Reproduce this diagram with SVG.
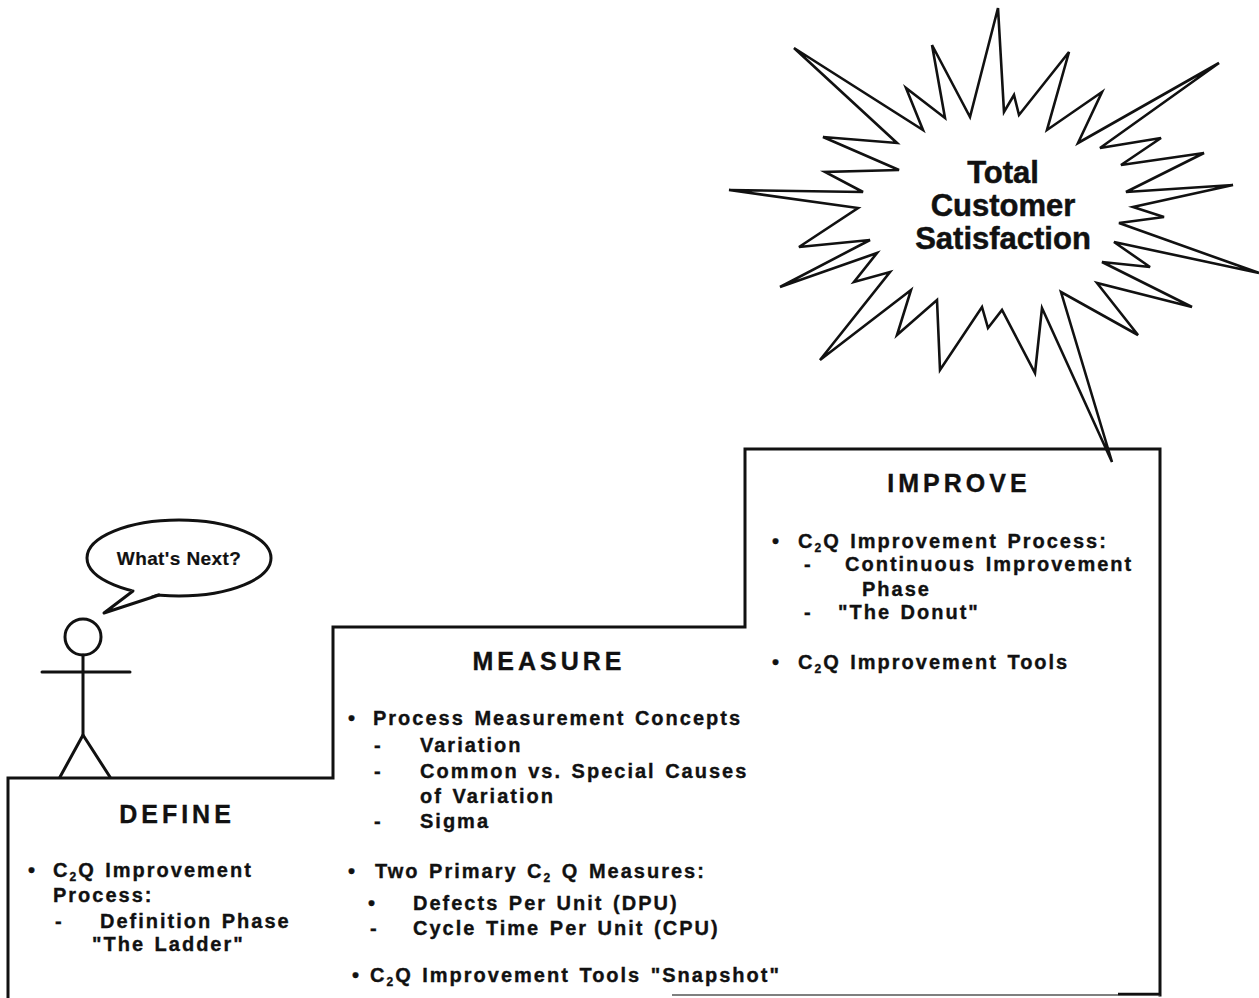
<svg xmlns="http://www.w3.org/2000/svg" width="1259" height="998" viewBox="0 0 1259 998">
  <style>
    .bg { fill: #ffffff; }
    .ln { fill: none; stroke: #111; stroke-width: 3; stroke-linejoin: miter; stroke-linecap: square; }
    .burst { fill: #ffffff; stroke: #111; stroke-width: 2.6; stroke-linejoin: miter; }
    .fig { fill: none; stroke: #111; stroke-width: 3; stroke-linecap: round; stroke-linejoin: round; }
    .bubble { fill: #ffffff; stroke: #111; stroke-width: 3; }
    text { font-family: "Liberation Sans", Arial, Helvetica, sans-serif; font-weight: bold; fill: #111; stroke: #111; stroke-width: 0.35px; }
    .head { font-size: 25px; letter-spacing: 4px; text-anchor: middle; }
    .item { font-size: 20px; letter-spacing: 2px; word-spacing: 2px; }
    .star { font-size: 31px; text-anchor: middle; stroke-width: 0.5px; }
    .say { font-size: 19px; letter-spacing: 0.4px; text-anchor: middle; stroke-width: 0.2px; }
    .sub { font-size: 12px; }
  </style>

  <rect class="bg" x="0" y="0" width="1259" height="998"/>

  <!-- staircase outline: three rising steps -->
  <g id="connectors">
    <path class="ln" d="M8,998 V778 H333 V627 H745 V449 H1160 V995"/>
    <line x1="672" y1="995" x2="1160" y2="995" stroke="#555" stroke-width="1.4"/>
    <line x1="1118" y1="994" x2="1160" y2="994" stroke="#111" stroke-width="2.5"/>
  </g>

  <!-- starburst at the top of the stairs -->
  <g id="goal">
    <polygon class="burst" points="998,8 1004,112 1014,95 1019,115 1069,52 1047,130 1102,92 1078,143 1219,63 1100,148 1161,138 1121,165 1204,153 1126,192 1233,185 1133,207 1164,217 1119,223 1259,273 1114,242 1150,267 1102,262 1192,307 1097,283 1138,335 1061,292 1112,462 1042,308 1035,373 1002,310 988,328 982,307 940,370 937,300 897,335 911,290 820,360 890,272 854,282 877,253 780,287 870,240 799,247 858,208 729,190 863,192 825,172 899,170 823,137 897,143 794,48 923,130 906,88 945,118 932,45 970,117"/>
    <text class="star" x="1003" y="183">Total</text>
    <text class="star" x="1003" y="216">Customer</text>
    <text class="star" x="1003" y="249">Satisfaction</text>
  </g>

  <!-- stick figure with speech bubble -->
  <g id="person">
    <circle class="fig" cx="83" cy="637" r="18"/>
    <line class="fig" x1="83" y1="655" x2="83" y2="735"/>
    <line class="fig" x1="42" y1="672" x2="130" y2="672"/>
    <polyline class="fig" points="60,777 83,735 110,777"/>
    <ellipse class="bubble" cx="179" cy="558" rx="92" ry="38"/>
    <polygon points="133,589 104,613 159,593" fill="#ffffff"/>
    <polyline class="fig" points="133,591 104,613 159,595"/>
    <text class="say" x="179" y="565">What's Next?</text>
  </g>

  <!-- step 1 -->
  <g id="define">
    <text class="head" x="177" y="823">DEFINE</text>
    <text class="item" x="28" y="877">•</text>
    <text class="item" x="53" y="877">C<tspan class="sub" dy="4">2</tspan><tspan dy="-4">Q Improvement</tspan></text>
    <text class="item" x="53" y="902">Process:</text>
    <text class="item" x="55" y="928">-</text>
    <text class="item" x="100" y="928">Definition Phase</text>
    <text class="item" x="92" y="951">"The Ladder"</text>
  </g>

  <!-- step 2 -->
  <g id="measure">
    <text class="head" x="549" y="670">MEASURE</text>
    <text class="item" x="348" y="725">•</text>
    <text class="item" x="373" y="725">Process Measurement Concepts</text>
    <text class="item" x="374" y="752">-</text>
    <text class="item" x="420" y="752">Variation</text>
    <text class="item" x="374" y="778">-</text>
    <text class="item" x="420" y="778">Common vs. Special Causes</text>
    <text class="item" x="420" y="803">of Variation</text>
    <text class="item" x="374" y="828">-</text>
    <text class="item" x="420" y="828">Sigma</text>
    <text class="item" x="348" y="878">•</text>
    <text class="item" x="375" y="878">Two Primary C<tspan class="sub" dy="4">2</tspan><tspan dy="-4"> Q Measures:</tspan></text>
    <text class="item" x="368" y="910">•</text>
    <text class="item" x="413" y="910">Defects Per Unit (DPU)</text>
    <text class="item" x="370" y="935">-</text>
    <text class="item" x="413" y="935">Cycle Time Per Unit (CPU)</text>
    <text class="item" x="352" y="982">•</text>
    <text class="item" x="370" y="982">C<tspan class="sub" dy="4">2</tspan><tspan dy="-4">Q Improvement Tools "Snapshot"</tspan></text>
  </g>

  <!-- step 3 -->
  <g id="improve">
    <text class="head" x="959" y="492">IMPROVE</text>
    <text class="item" x="772" y="548">•</text>
    <text class="item" x="798" y="548">C<tspan class="sub" dy="4">2</tspan><tspan dy="-4">Q Improvement Process:</tspan></text>
    <text class="item" x="804" y="571">-</text>
    <text class="item" x="845" y="571">Continuous Improvement</text>
    <text class="item" x="862" y="596">Phase</text>
    <text class="item" x="804" y="619">-</text>
    <text class="item" x="838" y="619">"The Donut"</text>
    <text class="item" x="772" y="669">•</text>
    <text class="item" x="798" y="669">C<tspan class="sub" dy="4">2</tspan><tspan dy="-4">Q Improvement Tools</tspan></text>
  </g>
</svg>
